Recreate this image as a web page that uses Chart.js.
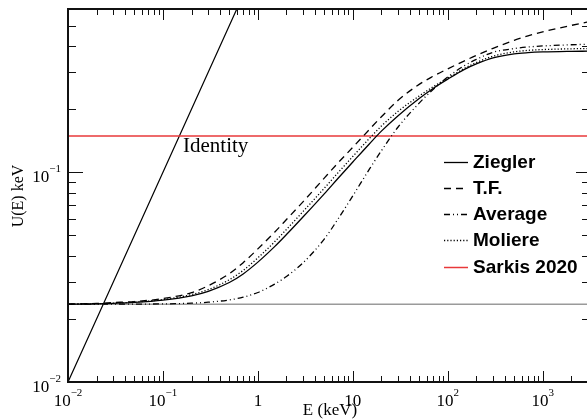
<!DOCTYPE html>
<html><head><meta charset="utf-8">
<script src="https://cdn.jsdelivr.net/npm/chart.js@4/dist/chart.umd.min.js"></script>
<style>
html,body{margin:0;padding:0;background:#fff;overflow:hidden;width:587px;height:420px}
#wrap{position:relative;width:600px;height:420px}
</style>
</head><body><div id="wrap"><canvas id="c" width="600" height="420"></canvas></div>
<script>
// ---- data ----
const energies    = [0.01, 0.02, 0.03, 0.05, 0.1, 0.2, 0.3, 0.5, 0.7, 1, 1.5, 2, 3, 5, 7, 10, 15, 20, 30, 50, 70, 100, 150, 200, 300, 500, 700, 1000, 2000, 3000];
const ziegler     = [0.02351, 0.02359, 0.02372, 0.02396, 0.02457, 0.02576, 0.02706, 0.02980, 0.03275, 0.03728, 0.04418, 0.05045, 0.06134, 0.07890, 0.09363, 0.1119, 0.1368, 0.1570, 0.1861, 0.2246, 0.2508, 0.2778, 0.3094, 0.3286, 0.3510, 0.3667, 0.3715, 0.3744, 0.3769, 0.3777];
const thomasFermi = [0.02351, 0.02369, 0.02391, 0.02419, 0.02498, 0.02668, 0.02877, 0.03283, 0.03704, 0.04313, 0.05179, 0.05948, 0.07244, 0.09373, 0.1109, 0.1315, 0.1602, 0.1838, 0.2202, 0.2624, 0.2865, 0.3111, 0.3396, 0.3607, 0.3896, 0.4253, 0.4467, 0.4667, 0.5012, 0.5208];
const average     = [0.02351, 0.02351, 0.02351, 0.02351, 0.02357, 0.02375, 0.02401, 0.02462, 0.02536, 0.02671, 0.02929, 0.03184, 0.03704, 0.04801, 0.05994, 0.07720, 0.1037, 0.1266, 0.1643, 0.2136, 0.2481, 0.2844, 0.3222, 0.3449, 0.3732, 0.3886, 0.3955, 0.3999, 0.4052, 0.4074];
const moliere     = [0.02351, 0.02361, 0.02377, 0.02404, 0.02471, 0.02610, 0.02757, 0.03073, 0.03404, 0.03908, 0.04658, 0.05336, 0.06508, 0.08382, 0.09956, 0.1189, 0.1452, 0.1660, 0.1952, 0.2309, 0.2553, 0.2809, 0.3128, 0.3333, 0.3576, 0.3748, 0.3810, 0.3843, 0.3877, 0.3886];
const sarkis2020  = 0.149;     // horizontal red line
const lowEnergyLimit = 0.0235; // horizontal grey line
const identityE   = [0.01, 1];
const xTickValues = [0.01, 0.1, 1, 10, 100, 1000];
const xTickLabels = [["10","\u22122"],["10","\u22121"],["1",""],["10",""],["10","2"],["10","3"]];
const yTickValues = [0.01, 0.1];
const yTickLabels = [["10","\u22122"],["10","\u22121"]];
const legendLabels = ["Ziegler","T.F.","Average","Moliere","Sarkis 2020"];
const xRange = [0.01, 3000];
const yRange = [0.01, 0.6];

const styles = {
  ziegler: {c:'#000', d:[]},
  tf: {c:'#000', d:[7,5]},
  avg: {c:'#000', d:[6,3,1,3,1,3]},
  mol: {c:'#000', d:[1.2,2]},
  sark: {c:'#e8383a', d:[]}
};

function pts(xs, ys){ return xs.map((x,i)=>({x:x, y:ys[i]})); }

const datasets = [
  {label:'Ziegler', data:pts(energies, ziegler), borderColor:styles.ziegler.c, borderDash:styles.ziegler.d, borderWidth:1.3},
  {label:'T.F.', data:pts(energies, thomasFermi), borderColor:styles.tf.c, borderDash:styles.tf.d, borderWidth:1.3},
  {label:'Average', data:pts(energies, average), borderColor:styles.avg.c, borderDash:styles.avg.d, borderWidth:1.3},
  {label:'Moliere', data:pts(energies, moliere), borderColor:styles.mol.c, borderDash:styles.mol.d, borderWidth:1.3},
  {label:'Sarkis 2020', data:pts(xRange, [sarkis2020, sarkis2020]), borderColor:styles.sark.c, borderDash:[], borderWidth:1.5},
  {label:'limit', data:pts(xRange, [lowEnergyLimit, lowEnergyLimit]), borderColor:'#9a9a9a', borderWidth:1.5},
  {label:'Identity', data:pts(identityE, identityE), borderColor:'#000', borderWidth:1.2}
].map(d=>Object.assign({fill:false, pointRadius:0, cubicInterpolationMode:'monotone'}, d));

const frame = {
  id:'frame',
  afterDraw(chart){
    const ctx = chart.ctx, a = chart.chartArea;
    const xs = chart.scales.x, ys = chart.scales.y;
    ctx.save();
    ctx.strokeStyle = '#111'; ctx.lineWidth = 2; ctx.setLineDash([]);
    ctx.strokeRect(a.left, a.top, a.right - a.left, a.bottom - a.top);
    ctx.lineWidth = 1;
    for (let d=-2; d<=3; d++) for (let m=1; m<=9; m++){
      const v = m*Math.pow(10,d);
      if (v < xRange[0] || v > xRange[1]) continue;
      const px = Math.round(xs.getPixelForValue(v)) + 0.5;
      const L = m===1 ? 11 : 6;
      ctx.beginPath();
      ctx.moveTo(px, a.bottom); ctx.lineTo(px, a.bottom - L);
      ctx.moveTo(px, a.top); ctx.lineTo(px, a.top + L);
      ctx.stroke();
    }
    for (let d=-2; d<=-1; d++) for (let m=1; m<=9; m++){
      const v = m*Math.pow(10,d);
      if (v < yRange[0] || v > yRange[1]) continue;
      const py = Math.round(ys.getPixelForValue(v)) + 0.5;
      ctx.beginPath();
      ctx.moveTo(a.left, py); ctx.lineTo(a.left + (m===1 ? 15 : 8), py);
      ctx.moveTo(a.right, py); ctx.lineTo(a.right - (m===1 ? 12 : 6), py);
      ctx.stroke();
    }
    ctx.fillStyle = '#000';
    const big = '17px "Liberation Serif"', small = '11px "Liberation Serif"';
    function measure(lab){
      ctx.font = big; const w1 = ctx.measureText(lab[0]).width;
      ctx.font = small; const w2 = lab[1] ? ctx.measureText(lab[1]).width : 0;
      return [w1, w2];
    }
    function drawLab(lab, x, y){
      const [w1] = measure(lab);
      ctx.textBaseline = 'alphabetic'; ctx.textAlign = 'left';
      ctx.font = big; ctx.fillText(lab[0], x, y);
      if (lab[1]) { ctx.font = small; ctx.fillText(lab[1], x + w1, y - 10); }
    }
    xTickValues.forEach((v,i)=>{
      const lab = xTickLabels[i], [w1,w2] = measure(lab);
      drawLab(lab, xs.getPixelForValue(v) - (w1+w2)/2, 406);
    });
    yTickValues.forEach((v,i)=>{
      const lab = yTickLabels[i], [w1,w2] = measure(lab);
      drawLab(lab, 61 - (w1+w2), ys.getPixelForValue(v) + 10);
    });
    ctx.font = '17px "Liberation Serif"';
    ctx.textAlign = 'center'; ctx.textBaseline = 'alphabetic';
    ctx.fillText('E (keV)', 330, 415);
    ctx.save();
    ctx.translate(23, 196); ctx.rotate(-Math.PI/2);
    ctx.font = '16px "Liberation Serif"';
    ctx.fillText('U(E) keV', 0, 0);
    ctx.restore();
    ctx.font = '21px "Liberation Serif"'; ctx.textAlign = 'left';
    ctx.fillText('Identity', 183, 152);
    const keys = ['ziegler','tf','avg','mol','sark'];
    const ly = [162, 188, 214, 240, 267];
    ctx.font = 'bold 19px "Liberation Sans"'; ctx.textBaseline = 'middle';
    keys.forEach((k,i)=>{
      ctx.strokeStyle = styles[k].c; ctx.lineWidth = k==='sark' ? 1.5 : 1.3;
      ctx.setLineDash(styles[k].d);
      ctx.beginPath(); ctx.moveTo(444, ly[i] + 0.5); ctx.lineTo(468, ly[i] + 0.5); ctx.stroke();
      ctx.setLineDash([]);
      ctx.fillStyle = '#000';
      ctx.fillText(legendLabels[i], 473, ly[i] + 1);
    });
    ctx.restore();
  }
};

new Chart(document.getElementById('c'), {
  type:'line',
  data:{datasets},
  options:{
    responsive:false, animation:false, devicePixelRatio:1,
    layout:{padding:{left:68, right:12, top:9, bottom:38}},
    plugins:{legend:{display:false}, tooltip:{enabled:false}},
    scales:{
      x:{type:'logarithmic', min:xRange[0], max:xRange[1], display:false},
      y:{type:'logarithmic', min:yRange[0], max:yRange[1], display:false}
    }
  },
  plugins:[frame]
});
</script>
</body></html>
